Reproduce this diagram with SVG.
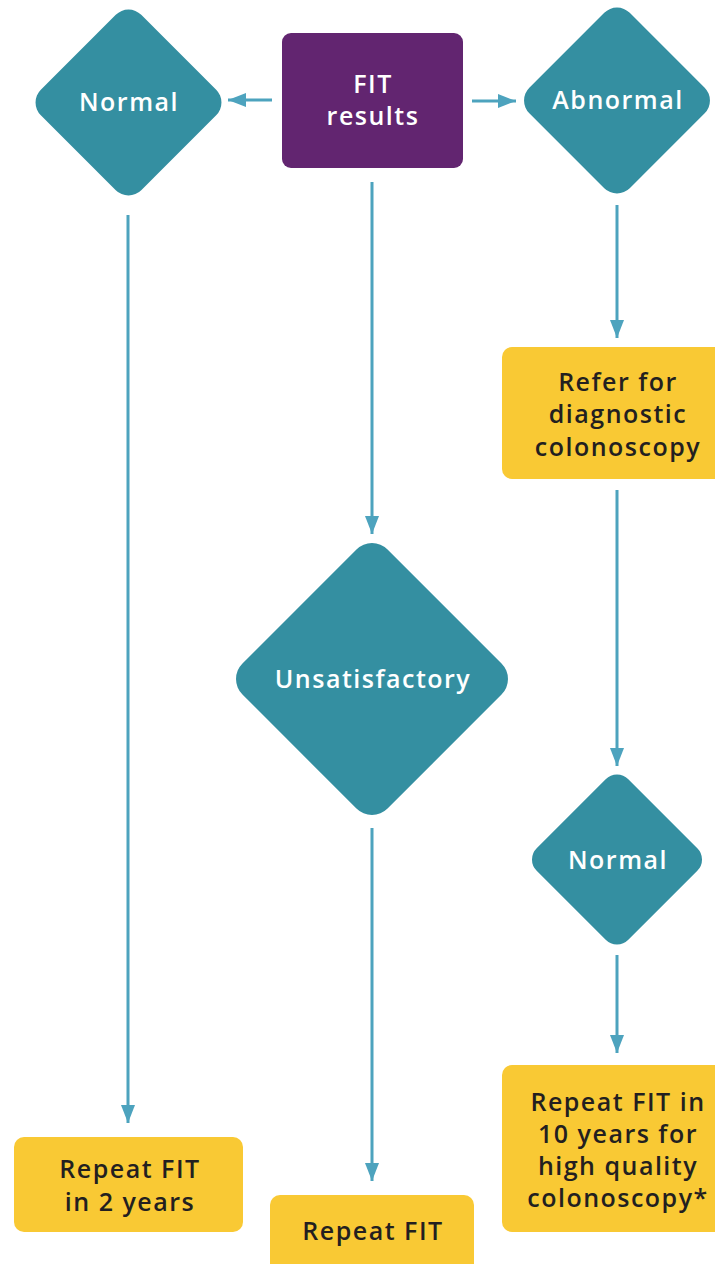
<svg xmlns="http://www.w3.org/2000/svg" width="715" height="1264" viewBox="0 0 715 1264">
<defs>
<style>
.dia{fill:#348FA1}
.box{fill:#F9C934}
.wt{fill:#FFFFFF;font-family:"Open Sans","Noto Sans",sans-serif;font-size:25px;font-weight:600;letter-spacing:1.5px;text-anchor:middle}
.bt{fill:#231F20;font-family:"Open Sans","Noto Sans",sans-serif;font-size:25px;font-weight:600;letter-spacing:1.5px;text-anchor:middle}
.ln{stroke:#4DA3BE;stroke-width:3;fill:none}
</style>
<marker id="ah" markerWidth="18" markerHeight="14" refX="18" refY="7" orient="auto" markerUnits="userSpaceOnUse">
<path d="M0,0 L18,7 L0,14 Z" fill="#4DA3BE"/>
</marker>
</defs>
<g id="connectors">
<line class="ln" x1="272" y1="100" x2="228" y2="100" marker-end="url(#ah)"/>
<line class="ln" x1="472" y1="101" x2="516" y2="101" marker-end="url(#ah)"/>
<line class="ln" x1="128" y1="215" x2="128" y2="1123" marker-end="url(#ah)"/>
<line class="ln" x1="372" y1="182" x2="372" y2="534" marker-end="url(#ah)"/>
<line class="ln" x1="372" y1="828" x2="372" y2="1181" marker-end="url(#ah)"/>
<line class="ln" x1="617" y1="205" x2="617" y2="338" marker-end="url(#ah)"/>
<line class="ln" x1="617" y1="490" x2="617" y2="766" marker-end="url(#ah)"/>
<line class="ln" x1="617" y1="955" x2="617" y2="1053" marker-end="url(#ah)"/>
</g>
<g id="fit-results">
<rect x="282" y="33" width="181" height="135" rx="9" fill="#622570"/>
<text class="wt" x="373" y="93">FIT</text>
<text class="wt" x="373" y="125">results</text>
</g>
<g id="normal-1">
<rect class="dia" x="57.5" y="31.5" width="142" height="142" rx="18" transform="rotate(45 128.5 102.5)"/>
<text class="wt" x="129" y="111">Normal</text>
</g>
<g id="abnormal">
<rect class="dia" x="546" y="29.5" width="142" height="142" rx="18" transform="rotate(45 617 100.5)"/>
<text class="wt" x="618" y="109">Abnormal</text>
</g>
<g id="refer">
<rect class="box" x="502" y="347" width="230" height="132" rx="10"/>
<text class="bt" x="618" y="391">Refer for</text>
<text class="bt" x="618" y="423">diagnostic</text>
<text class="bt" x="618" y="456">colonoscopy</text>
</g>
<g id="unsatisfactory">
<rect class="dia" x="269.4" y="576.4" width="205.2" height="205.2" rx="22" transform="rotate(45 372 679)"/>
<text class="wt" x="373" y="688">Unsatisfactory</text>
</g>
<g id="normal-2">
<rect class="dia" x="552.2" y="794.7" width="129.6" height="129.6" rx="16" transform="rotate(45 617 859.5)"/>
<text class="wt" x="618" y="869">Normal</text>
</g>
<g id="repeat-2y">
<rect class="box" x="14" y="1137" width="229" height="95" rx="10"/>
<text class="bt" x="130" y="1178">Repeat FIT</text>
<text class="bt" x="130" y="1211">in 2 years</text>
</g>
<g id="repeat-fit">
<rect class="box" x="270" y="1195" width="204" height="90" rx="10"/>
<text class="bt" x="373" y="1240">Repeat FIT</text>
</g>
<g id="repeat-10y">
<rect class="box" x="502" y="1065" width="230" height="167" rx="10"/>
<text class="bt" x="618" y="1111">Repeat FIT in</text>
<text class="bt" x="618" y="1143">10 years for</text>
<text class="bt" x="618" y="1175">high quality</text>
<text class="bt" x="618" y="1207">colonoscopy*</text>
</g>
</svg>
